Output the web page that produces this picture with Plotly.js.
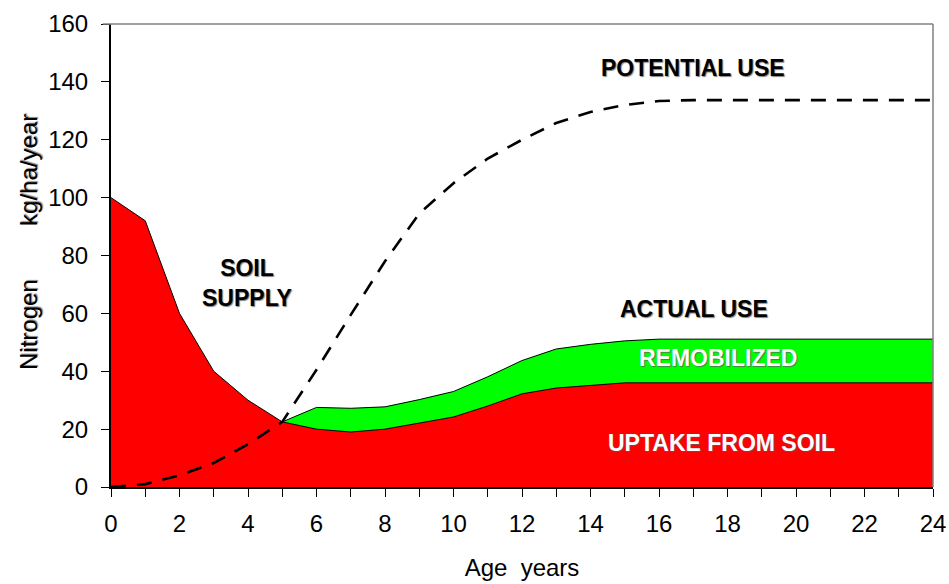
<!DOCTYPE html>
<html>
<head>
<meta charset="utf-8">
<script src="https://cdn.plot.ly/plotly-3.0.1.min.js"></script>
<style>
html, body { margin: 0; padding: 0; background: #fff; }
#chart { width: 949px; height: 584px; }
.annotation-text { text-shadow: 1px 1px 1px rgba(90,90,90,0.75); }
</style>
</head>
<body>
<div id="chart"></div>
<script>
// Age in years
var years = [0,1,2,3,4,5,6,7,8,9,10,11,12,13,14,15,16,17,18,19,20,21,22,23,24];
// Soil supply / uptake from soil (kg/ha/year)
var soilUptake = [100,92,60,40,30,22.5,20,19,20,22,24.2,28,32.2,34.2,35.2,36,36,36,36,36,36,36,36,36,36];
// Actual use (uptake + remobilized)
var actualYears = [5,6,7,8,9,10,11,12,13,14,15,16,17,18,19,20,21,22,23,24];
var actualUse = [22.5,27.5,27.2,27.7,30.2,33,38.1,43.7,47.7,49.3,50.5,51.1,51.1,51.1,51.1,51.1,51.1,51.1,51.1,51.1];
// Potential use
var potentialUse = [0,1,4,8.3,14.8,22.5,40.5,59.5,78,94.5,105,113.5,120,125.8,129.6,132,133.4,133.7,133.7,133.7,133.7,133.7,133.7,133.7,133.7];

var xTickVals = [0,2,4,6,8,10,12,14,16,18,20,22,24];
var yTickVals = [0,20,40,60,80,100,120,140,160];

var traces = [
  {x: actualYears, y: actualUse, type: 'scatter', mode: 'lines', fill: 'tozeroy',
   fillcolor: '#00FF00', line: {color: '#000', width: 1}, hoverinfo: 'skip', showlegend: false},
  {x: years, y: soilUptake, type: 'scatter', mode: 'lines', fill: 'tozeroy',
   fillcolor: '#FF0000', line: {color: '#000', width: 1}, hoverinfo: 'skip', showlegend: false},
  {x: years, y: potentialUse, type: 'scatter', mode: 'lines',
   line: {color: '#000', width: 2.6, dash: '15px,11px'}, hoverinfo: 'skip', showlegend: false}
];

var L = 111, R = 933, T = 24, B = 487;
function px(x) { return (x - L) / (R - L); }
function py(y) { return (B - y) / (B - T); }

var boldFont = {family: 'Liberation Sans, Arial, sans-serif', size: 23, color: '#000'};
var whiteFont = {family: 'Liberation Sans, Arial, sans-serif', size: 23, color: '#fff'};
function ann(text, x, y, font) {
  return {text: '<b>' + text + '</b>', xref: 'paper', yref: 'paper', x: px(x), y: py(y),
          xanchor: 'center', yanchor: 'middle', showarrow: false, font: font};
}
var nb = '\u00A0';
var annotations = [
  ann('POTENTIAL USE', 693, 68, boldFont),
  ann('SOIL<br>SUPPLY', 247, 283, boldFont),
  ann('ACTUAL USE', 694, 309, boldFont),
  ann('REMOBILIZED', 718, 358, whiteFont),
  ann('UPTAKE FROM SOIL', 721, 443, whiteFont),
  {text: 'Nitrogen' + nb.repeat(8) + 'kg/ha/year', xref: 'paper', yref: 'paper',
   x: px(28), y: py(242), textangle: -90, xanchor: 'center', yanchor: 'middle', showarrow: false,
   font: {family: 'Liberation Sans, Arial, sans-serif', size: 24, color: '#000'}}
];

var layout = {
  width: 949, height: 584,
  margin: {l: L, r: 949 - R, t: T, b: 584 - B},
  paper_bgcolor: '#fff', plot_bgcolor: '#fff',
  showlegend: false,
  xaxis: {
    range: [0, 24], tickvals: xTickVals, ticktext: xTickVals.map(String),
    ticks: 'outside', ticklen: 8, tickwidth: 1, tickcolor: '#000',
    minor: {dtick: 1, ticks: 'outside', ticklen: 8, tickwidth: 1, tickcolor: '#000', showgrid: false},
    showline: true, linecolor: '#000', linewidth: 2, showgrid: false, zeroline: false,
    ticklabelstandoff: 6,
    tickfont: {family: 'Liberation Sans, Arial, sans-serif', size: 24, color: '#000'},
    title: {text: 'Age' + nb + nb + 'years', standoff: 23,
            font: {family: 'Liberation Sans, Arial, sans-serif', size: 24, color: '#000'}}
  },
  yaxis: {
    range: [0, 160], tickvals: yTickVals, ticktext: yTickVals.map(String),
    ticks: 'outside', ticklen: 8, tickwidth: 1, tickcolor: '#000',
    showline: true, linecolor: '#000', linewidth: 2, showgrid: false, zeroline: false,
    ticklabelstandoff: 8,
    tickfont: {family: 'Liberation Sans, Arial, sans-serif', size: 24, color: '#000'}
  },
  shapes: [
    {type: 'line', xref: 'paper', yref: 'paper', x0: -0.01, x1: 1, y0: 1, y1: 1,
     line: {color: '#808080', width: 1.5}},
    {type: 'line', xref: 'paper', yref: 'paper', x0: 1, x1: 1, y0: 0, y1: 1,
     line: {color: '#808080', width: 1.5}}
  ],
  annotations: annotations
};

Plotly.newPlot('chart', traces, layout, {staticPlot: true, displayModeBar: false});
</script>
</body>
</html>
